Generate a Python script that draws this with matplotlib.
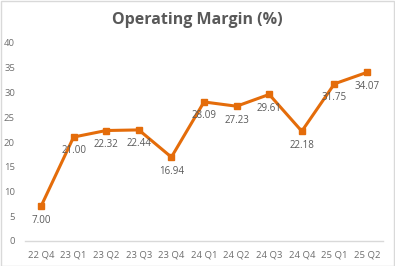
import matplotlib
matplotlib.use("Agg")
import matplotlib.pyplot as plt
from matplotlib.patches import Rectangle

categories = ["22 Q4", "23 Q1", "23 Q2", "23 Q3", "23 Q4", "24 Q1",
              "24 Q2", "24 Q3", "24 Q4", "25 Q1", "25 Q2"]
values = [7.00, 21.00, 22.32, 22.44, 16.94, 28.09, 27.23, 29.61, 22.18, 31.75, 34.07]
yticks = [0, 5, 10, 15, 20, 25, 30, 35, 40]

W, H = 395, 266
fig = plt.figure(figsize=(W / 100, H / 100), dpi=100)
fig.patches.append(Rectangle((0.5 / W, 0.5 / H), 1 - 1.5 / W, 1 - 1.5 / H,
                             transform=fig.transFigure, fill=False,
                             edgecolor="#D9D9D9", linewidth=1))

ax = fig.add_axes([24.7 / W, 25 / H, (383.3 - 24.7) / W, 198 / H])
x = list(range(len(categories)))
color = "#E46C0A"
ax.plot(x, values, color=color, linewidth=2.2, marker="s", markersize=4.5,
        markerfacecolor=color, markeredgecolor=color)

for xi, v in zip(x, values):
    ax.annotate(f"{v:.2f}", (xi, v), xytext=(0, -10), textcoords="offset points",
                ha="center", va="center", fontsize=7, color="#595959",
                family="Open Sans")

ax.set_xlim(-0.5, len(categories) - 0.5)
ax.set_ylim(0, 40)
ax.set_yticks(yticks)
ax.set_yticklabels([str(t) for t in yticks], fontsize=6.8, color="#6E6E6E",
                   family="Open Sans")
ax.set_xticks(x)
ax.set_xticklabels(categories, fontsize=6.8, color="#6E6E6E", family="Open Sans")
ax.tick_params(axis="both", length=0)
ax.tick_params(axis="y", pad=7)
ax.tick_params(axis="x", pad=7)
for s in ["top", "right", "left"]:
    ax.spines[s].set_visible(False)
ax.spines["bottom"].set_color("#D9D9D9")
ax.spines["bottom"].set_linewidth(1)

fig.text(0.5, 1 - 20 / H, "Operating Margin (%)", ha="center", va="center",
         fontsize=11.5, fontweight="bold", color="#595959", family="Open Sans")

fig.savefig("out.png", dpi=100)
